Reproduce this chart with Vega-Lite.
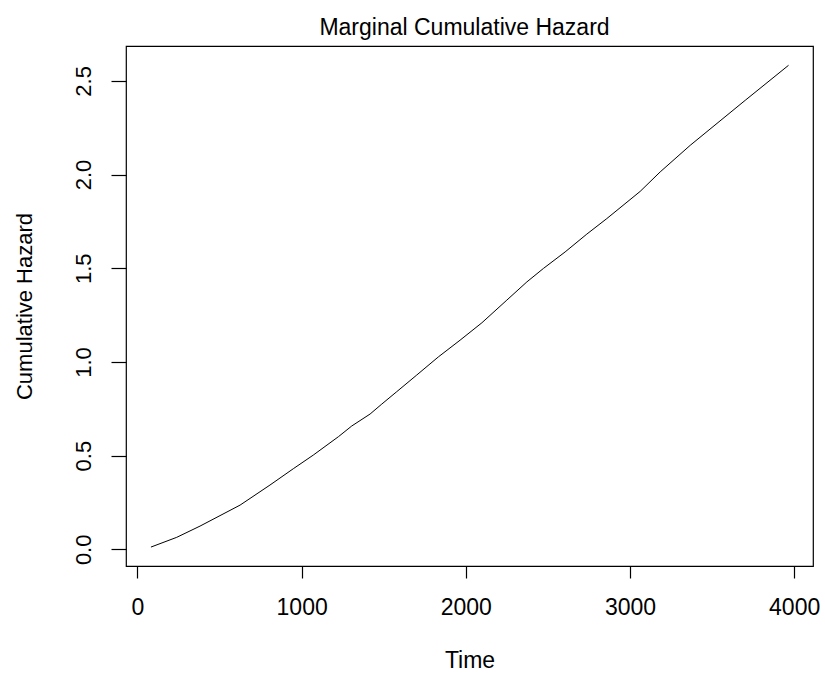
{
  "$schema": "https://vega.github.io/schema/vega-lite/v6.json",
  "width": 687,
  "height": 520,
  "autosize": {"type": "none"},
  "padding": {"left": 126, "top": 46, "right": 12, "bottom": 107},
  "background": "white",
  "title": {
    "text": "Marginal Cumulative Hazard",
    "font": "Liberation Sans",
    "fontSize": 23,
    "fontWeight": "normal",
    "color": "black",
    "anchor": "middle",
    "frame": "group",
    "baseline": "alphabetic",
    "offset": 11,
    "dy": 23,
    "dx": -5
  },
  "config": {
    "view": {"stroke": "black", "strokeWidth": 1.2},
    "axis": {
      "grid": false,
      "domain": false,
      "tickColor": "black",
      "tickWidth": 1.2,
      "labelColor": "black",
      "titleColor": "black",
      "labelFont": "Liberation Sans",
      "titleFont": "Liberation Sans",
      "titleFontWeight": "normal"
    }
  },
  "data": {
    "values": [
      {"time": 82, "hazard": 0.012},
      {"time": 239, "hazard": 0.064},
      {"time": 381, "hazard": 0.124},
      {"time": 625, "hazard": 0.236},
      {"time": 807, "hazard": 0.343},
      {"time": 949, "hazard": 0.43},
      {"time": 1071, "hazard": 0.503},
      {"time": 1224, "hazard": 0.601},
      {"time": 1305, "hazard": 0.658},
      {"time": 1417, "hazard": 0.722},
      {"time": 1488, "hazard": 0.775},
      {"time": 1579, "hazard": 0.841},
      {"time": 1701, "hazard": 0.93},
      {"time": 1833, "hazard": 1.027},
      {"time": 1965, "hazard": 1.116},
      {"time": 2098, "hazard": 1.209},
      {"time": 2250, "hazard": 1.33},
      {"time": 2372, "hazard": 1.427},
      {"time": 2473, "hazard": 1.499},
      {"time": 2605, "hazard": 1.587},
      {"time": 2737, "hazard": 1.682},
      {"time": 2859, "hazard": 1.765},
      {"time": 3062, "hazard": 1.91},
      {"time": 3184, "hazard": 2.014},
      {"time": 3367, "hazard": 2.156},
      {"time": 3702, "hazard": 2.396},
      {"time": 3966, "hazard": 2.583}
    ]
  },
  "mark": {"type": "line", "color": "black", "strokeWidth": 1, "clip": true},
  "encoding": {
    "x": {
      "field": "time",
      "type": "quantitative",
      "scale": {"domain": [-70, 4115], "nice": false, "zero": false},
      "axis": {
        "title": "Time",
        "values": [0, 1000, 2000, 3000, 4000],
        "format": "d",
        "tickSize": 12,
        "labelFontSize": 23,
        "labelBaseline": "alphabetic",
        "labelPadding": 36,
        "labelFlush": false,
        "labelOverlap": false,
        "titleFontSize": 23,
        "titleBaseline": "alphabetic",
        "titleY": 101
      }
    },
    "y": {
      "field": "hazard",
      "type": "quantitative",
      "scale": {"domain": [-0.089, 2.686], "nice": false, "zero": false},
      "axis": {
        "title": "Cumulative Hazard",
        "values": [0, 0.5, 1, 1.5, 2, 2.5],
        "format": ".1f",
        "tickSize": 15,
        "labelFontSize": 22,
        "labelAngle": -90,
        "labelAlign": "center",
        "labelBaseline": "alphabetic",
        "labelPadding": 21,
        "labelFlush": false,
        "labelOverlap": false,
        "titleFontSize": 22,
        "titleAngle": -90,
        "titleBaseline": "alphabetic",
        "titleX": -95,
        "titleY": 260
      }
    }
  }
}
